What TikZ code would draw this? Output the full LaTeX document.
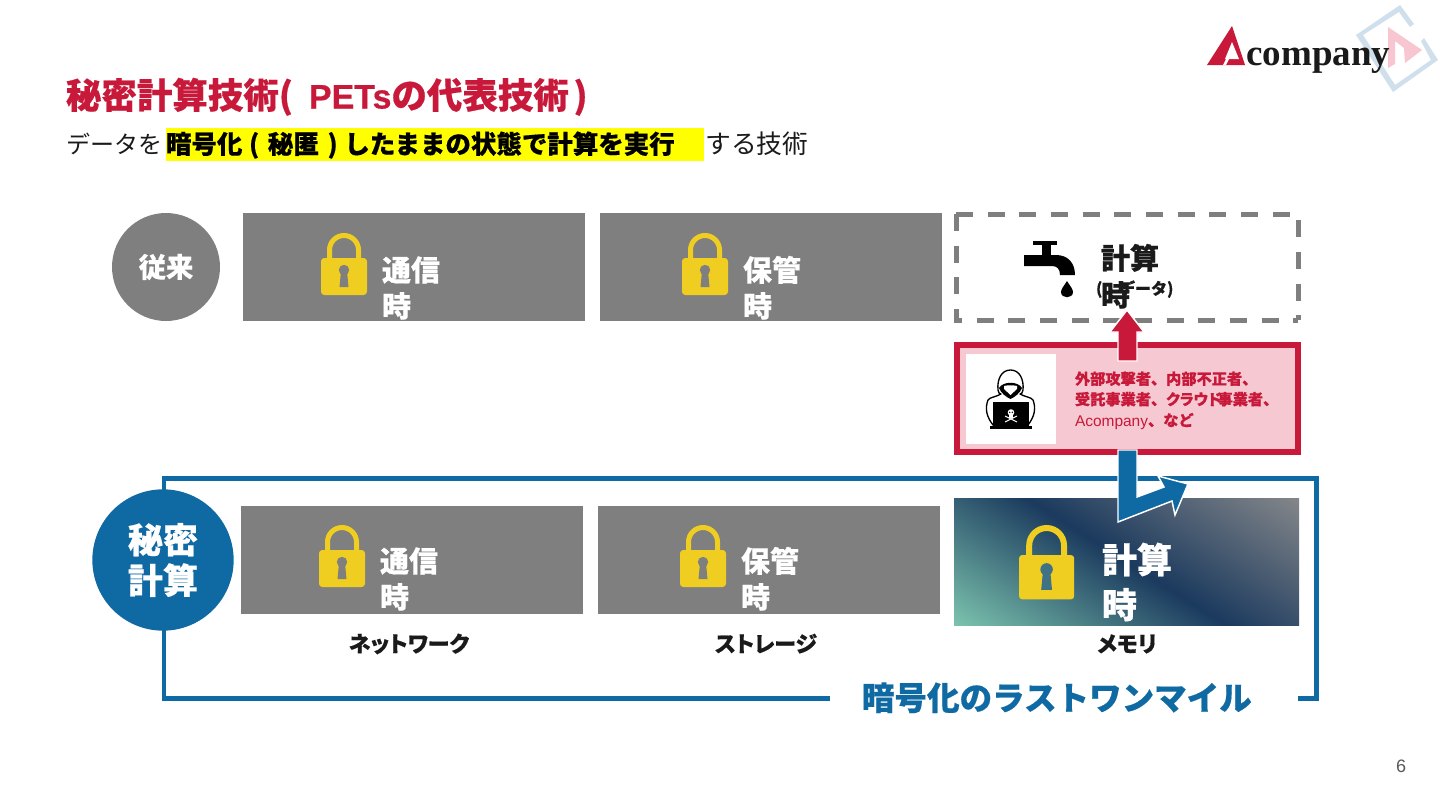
\documentclass[tikz,border=0pt]{standalone}
\usepackage{fontspec}
\setmainfont{Liberation Sans}
\newfontfamily\jp[BoldFeatures={FakeBold=0.5}]{Noto Sans CJK JP}
\newfontfamily\jpp[RawFeature=+palt,BoldFeatures={FakeBold=0.5,RawFeature=+palt}]{Noto Sans CJK JP}
\newfontfamily\lgf{Liberation Serif}
\definecolor{redc}{HTML}{C8193A}
\definecolor{pinkc}{HTML}{F6C9D2}
\definecolor{bluec}{HTML}{0F69A3}
\definecolor{grayc}{HTML}{7F7F7F}
\definecolor{lockc}{HTML}{F0CE21}
\definecolor{inkc}{HTML}{1A1A1A}
\definecolor{teal1}{HTML}{7CC4AE}
\definecolor{navy1}{HTML}{1B3A5E}
\definecolor{grad3}{HTML}{85878A}
\definecolor{holec}{HTML}{3E7284}
\definecolor{diamc}{HTML}{CFE0EC}
\definecolor{tric}{HTML}{F7C6D0}
\definecolor{numc}{HTML}{595959}
\definecolor{yelc}{RGB}{255,255,0}
\pgfdeclarehorizontalshading{gradc}{420bp}{color(0bp)=(teal1); color(110bp)=(navy1); color(220bp)=(grad3)}
\newcommand{\fsz}[1]{\fontsize{#1pt}{#1pt}\selectfont}
\tikzset{
  x=0.75pt,y=-0.75pt,
  txt/.style={anchor=base west,inner sep=0pt,outer sep=0pt,font=\jp\bfseries},
  mid/.style={txt,font=\jp\bfseries\fsz{21.75},text=white},
  blk/.style={txt,font=\jp\bfseries\fsz{21.75},text=inkc},
  lab/.style={anchor=base,inner sep=0pt,font=\jpp\bfseries\fsz{16.5},text=inkc},
  redt/.style={txt,font=\jp\bfseries\fsz{11.4},text=redc},
  pics/lockpic/.style n args={2}{code={
    \draw[lockc,line width=#2] (8.5,28) -- (8.5,17) arc[start angle=180,end angle=360,radius=14.5] -- (37.5,28);
    \fill[lockc,rounded corners=2.5pt] (0,25) rectangle (46,62);
    \fill[#1] (23,37) circle[radius=5.2];
    \fill[#1] (20,38) -- (26,38) -- (27.5,54) -- (18.5,54) -- cycle;
  }},
}
\begin{document}
\begin{tikzpicture}
\useasboundingbox (0,0) rectangle (1440,810);
\fill[white] (0,0) rectangle (1440,810);

% logo
\fill[diamc] (1400,5) -- (1414,24) -- (1410,27) -- (1399,12) -- (1363,35) -- (1395,85) -- (1431,60) -- (1421,41) -- (1424,38) -- (1438,60) -- (1393,92) -- (1356,35) -- cycle;
\fill[tric] (1388,27) -- (1422,50) -- (1405,63) -- (1404,48) -- (1395,41) -- (1395,64) -- (1388,68) -- cycle;
\fill[redc] (1232,26) -- (1207,65) -- (1245,65) -- cycle;
\fill[white] (1232,42) -- (1225,59) -- (1239,59) -- cycle;
\fill[white] (1226,59) -- (1229,59) -- (1226,65) -- (1223,65) -- cycle;
\node[anchor=base west,inner sep=0pt,font=\lgf\bfseries\fsz{27.75},text=inkc] (logot) at (1246,65) {company};

% title
\node[txt,text=redc] (title) at (66,108.5) {\fsz{26.6}秘密計算技術(\hspace{12pt}{\rmfamily\fontsize{25.5pt}{25.5pt}\selectfont\addfontfeature{FakeBold=0.5}PETs}の代表技術\hspace{3.5pt})};

% subtitle
\fill[yelc] (166,128) rectangle (704,161);
\node[anchor=base west,inner sep=0pt,font=\jp\fsz{18},text=inkc] (sub1) at (66,153.5) {データを};
\node[txt,text=black] (sub2) at (166,153.5) {\fsz{19.1}暗号化\hspace{5pt}(\hspace{6.5pt}秘匿\hspace{6.5pt})\hspace{5pt}したままの状態で計算を実行};
\node[anchor=base west,inner sep=0pt,font=\jp\fsz{19.3},text=inkc] (sub3) at (705,153.5) {する技術};

% row 1
\node[circle,fill=grayc,minimum size=81pt,inner sep=0pt,text=white,font=\jp\bfseries\fsz{20.5}] (c1) at (166,267) {従来};
\fill[grayc] (243,213) rectangle (585,321);
\fill[grayc] (600,213) rectangle (942,321);
\pic at (321,233) {lockpic={grayc}{3.75pt}};
\pic at (682,233) {lockpic={grayc}{3.75pt}};
\node[mid] (a1) at (382,281) {通信};
\node[mid] (a2) at (382,317) {時};
\node[mid] (b1) at (743,281) {保管};
\node[mid] (b2) at (743,317) {時};

% leak box
\draw[grayc,line width=3.75pt,dash pattern=on 12.75pt off 11pt] (956,214) -- (1298,214) -- (1298,320);
\draw[grayc,line width=3.75pt,dash pattern=on 12.75pt off 11pt] (956,214) -- (956,320) -- (1298,320);
\fill[black] (1033,241) rectangle (1057,245);
\fill[black] (1042,245) rectangle (1051,255);
\fill[black] (1024,255) -- (1056,255) .. controls (1068,255) and (1075,263) .. (1075,275) -- (1060,275) .. controls (1060,269) and (1057,266) .. (1052,266) -- (1024,266) -- cycle;
\fill[black] (1067,281) .. controls (1070,286) and (1073,289) .. (1073,292) .. controls (1073,299) and (1061,299) .. (1061,292) .. controls (1061,289) and (1064,286) .. (1067,281) -- cycle;
\node[blk] (d1) at (1101,269) {計算};
\node[blk] (d2) at (1101,306) {時};
\node[txt,text=inkc,font=\jp\bfseries\fsz{12}] (d3) at (1096,294.5) {(\hspace{12.5pt}データ)};

% attacker box
\draw[redc,fill=pinkc,line width=4.5pt] (957,345) rectangle (1298,452);
\fill[white] (966,354) rectangle (1056,444);
% hacker
\draw[black,fill=white,line width=1pt,line join=round] (1010.5,370) .. controls (1001,370) and (997,380) .. (998,390) .. controls (998,393) and (1000,394) .. (1001,394) .. controls (996,397) and (990,397) .. (988,400) .. controls (985,408) and (986,416) .. (993,425) -- (1028,425) .. controls (1035,416) and (1036,408) .. (1033,400) .. controls (1031,397) and (1025,397) .. (1020,394) .. controls (1021,394) and (1023,393) .. (1023,390) .. controls (1024,380) and (1020,370) .. (1010.5,370) -- cycle;
\fill[black] (999,388) .. controls (1003,381) and (1018,381) .. (1022,388) .. controls (1020,393) and (1015,397) .. (1010.5,399) .. controls (1006,397) and (1001,393) .. (999,388) -- cycle;
\fill[white] (1004,386) .. controls (1008,385) and (1013,385) .. (1017,386) -- (1017,389) -- (1010.5,395) -- (1004,389) -- cycle;
\fill[black] (993,402) rectangle (1029,426);
\fill[black] (990,426) rectangle (1032,429);
\fill[white] (1011,412.5) circle[radius=3.3];
\fill[white] (1009,415) rectangle (1013,418);
\draw[white,line width=0.75pt] (1005,416) -- (1017,422) (1017,416) -- (1005,422);
\fill[black] (1009.7,412.3) circle[radius=0.8] (1012.3,412.3) circle[radius=0.8];
\node[redt] (r1) at (1075,384.5) {外部攻撃者、内部不正者、};
\node[redt] (r2) at (1075,405) {受託事業者、{\jpp\bfseries\fsz{11.4}クラウド}\hspace{-3pt}事業者、};
\node[txt,text=redc,font=\rmfamily\fsz{11.6}] (r3) at (1075,426) {Acompany{\jp\bfseries\fsz{11.4}、など}};

% frame
\draw[bluec,line width=3.5pt,line join=miter] (830,698.5) -- (164,698.5) -- (164,478.5) -- (1316.5,478.5) -- (1316.5,698.5) -- (1298,698.5);

% red arrow
\draw[white,fill=redc,line width=1.1pt,line join=miter] (1127,310) -- (1144,332) -- (1137,332) -- (1137,361) -- (1118,361) -- (1118,332) -- (1110,332) -- cycle;

% row 2
\node[circle,fill=bluec,minimum size=106pt,inner sep=0pt,text=white,align=center,font=\jp\bfseries\fontsize{26.3pt}{30.5pt}\selectfont] (c2) at (163,560) {秘密\\計算};
\fill[grayc] (241,506) rectangle (583,614);
\fill[grayc] (598,506) rectangle (940,614);
\pic at (319,525) {lockpic={grayc}{3.75pt}};
\pic at (680,525) {lockpic={grayc}{3.75pt}};
\node[mid] (e1) at (380,572) {通信};
\node[mid] (e2) at (380,608) {時};
\node[mid] (f1) at (741,572) {保管};
\node[mid] (f2) at (741,608) {時};

% gradient cell
\begin{scope}
\clip (954,498) rectangle (1299,625);
\node[inner sep=0pt,rotate=57.5] (gr) at (1126.5,561.5) {\pgfuseshading{gradc}};
\end{scope}
\pic[scale=1.2] at (1019,525) {lockpic={holec}{4.5pt}};
\node[mid,font=\jp\bfseries\fsz{26.25}] (g1) at (1102,573) {計算};
\node[mid,font=\jp\bfseries\fsz{26.25}] (g2) at (1102,618) {時};

% blue bent arrow
\draw[white,fill=bluec,line width=1.1pt,line join=miter] (1118,450) -- (1137,450) -- (1137,497) -- (1164,487) -- (1158,476) -- (1188,484) -- (1175,515) -- (1172,501) -- (1118,522) -- cycle;

% labels
\node[lab] (n1) at (409,652) {ネットワーク};
\node[lab] (n2) at (766,652) {ストレージ};
\node[lab] (n3) at (1127,652) {メモリ};
\node[txt,text=bluec,font=\jp\bfseries\fsz{24.4}] (foot) at (862,710) {暗号化のラストワンマイル};
\node[anchor=base,inner sep=0pt,font=\rmfamily\fsz{13.5},text=numc] (pg) at (1401,772) {6};
\end{tikzpicture}
\end{document}
